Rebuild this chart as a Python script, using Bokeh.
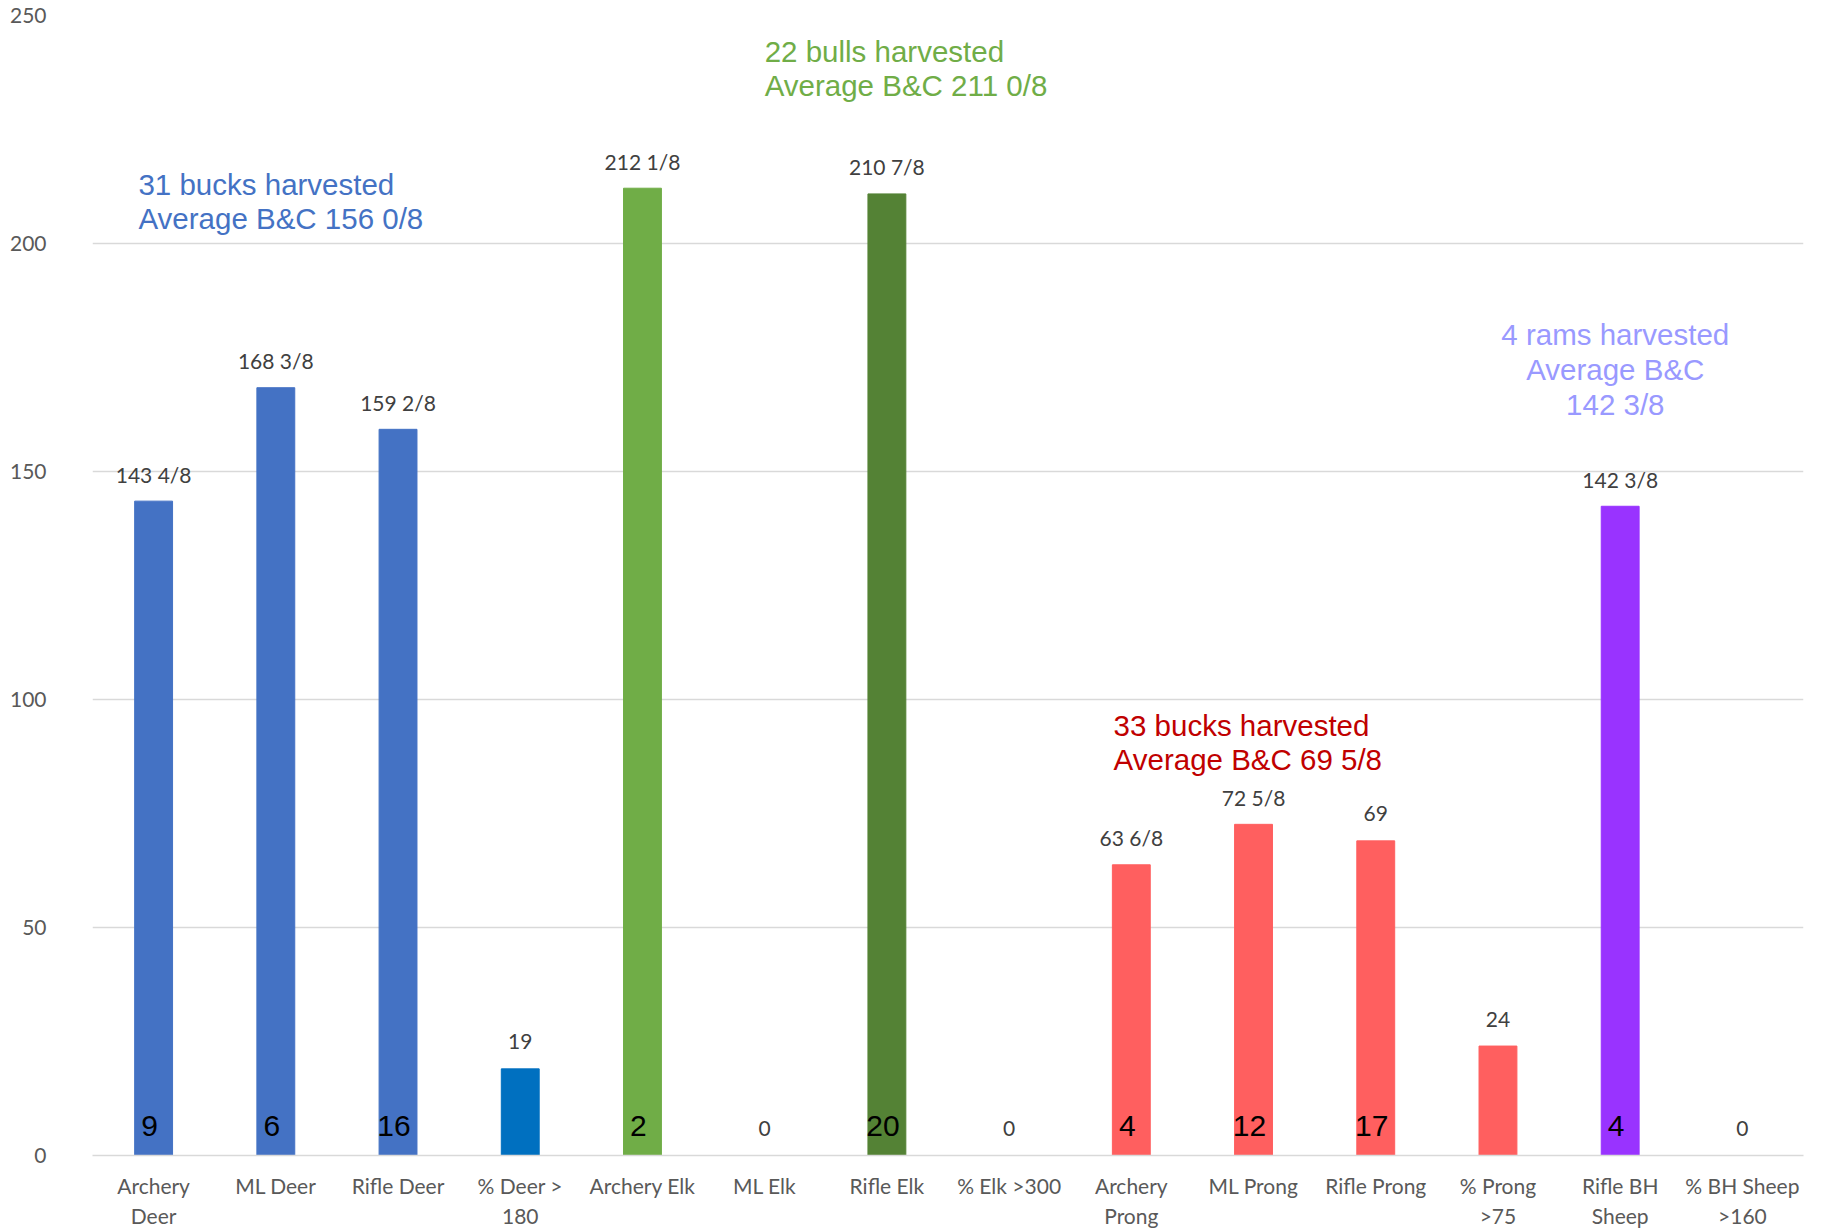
from bokeh.plotting import figure
from bokeh.models import ColumnDataSource, Range1d, FixedTicker
from bokeh.core.properties import value
from bokeh.embed import file_html
from bokeh.resources import INLINE

# ---- data ----
categories = ["Archery\nDeer", "ML Deer", "Rifle Deer", "% Deer >\n180", "Archery Elk", "ML Elk",
              "Rifle Elk", "% Elk >300", "Archery\nProng", "ML Prong", "Rifle Prong", "% Prong\n>75",
              "Rifle BH\nSheep", "% BH Sheep\n>160"]
scores = [143.5, 168.375, 159.25, 19, 212.125, 0, 210.875, 0, 63.75, 72.625, 69, 24, 142.375, 0]
score_labels = ["143 4/8", "168 3/8", "159 2/8", "19", "212 1/8", "0", "210 7/8", "0",
                "63 6/8", "72 5/8", "69", "24", "142 3/8", "0"]
bar_colors = ["#4472C4", "#4472C4", "#4472C4", "#0070C0", "#70AD47", "#70AD47", "#548235", "#548235",
              "#FF5F5F", "#FF5F5F", "#FF5F5F", "#FF5F5F", "#9933FF", "#9933FF"]
count_index = [0, 1, 2, 4, 6, 8, 9, 10, 12]
counts = ["9", "6", "16", "2", "20", "4", "12", "17", "4"]
y_ticks = [0, 50, 100, 150, 200, 250]

# annotation texts
notes = [
    ("31 bucks harvested\nAverage B&C 156 0/8", "#4472C4", -0.124, 209.2, "left"),
    ("22 bulls harvested\nAverage B&C 211 0/8", "#70AD47", 5.0, 238.4, "left"),
    ("33 bucks harvested\nAverage B&C 69 5/8", "#C00000", 7.855, 90.6, "left"),
    ("4 rams harvested\nAverage B&C\n142 3/8", "#9999FF", 11.96, 172.4, "center"),
]

xs = list(range(len(categories)))
src = ColumnDataSource(dict(x=xs, top=scores, label=score_labels, color=bar_colors))

p = figure(frame_width=1711, frame_height=1140, x_range=Range1d(-0.5, 13.5), y_range=Range1d(0, 250),
           output_backend="svg", toolbar_location=None,
           min_border_left=92, min_border_right=27, min_border_top=15, min_border_bottom=0)
p.outline_line_color = None
p.background_fill_color = "white"

p.vbar(x="x", top="top", width=0.31, color="color", source=src)

p.text(x="x", y="top", text="label", source=src, text_align="center", text_baseline="middle",
       y_offset=-27, text_font=value("Lato"), text_font_size="21px", text_color="#404040")

csrc = ColumnDataSource(dict(x=count_index, y=[0] * len(counts), t=counts))
p.text(x="x", y="y", text="t", source=csrc, text_align="center", text_baseline="middle",
       x_offset=-4, y_offset=-30, text_font=value("Liberation Sans"), text_font_size="30px",
       text_color="black")

for txt, col, nx, ny, align in notes:
    p.text(x=[nx], y=[ny], text=[txt], text_align=align, text_baseline="middle",
           text_font=value("Liberation Sans"), text_font_size="29.5px", text_color=col,
           text_line_height=1.05)

# axes
p.xaxis.ticker = FixedTicker(ticks=xs)
p.xaxis.major_label_overrides = {i: c for i, c in enumerate(categories)}
p.xaxis.major_label_text_font = "Lato"
p.xaxis.major_label_text_font_size = "21px"
p.xaxis.major_label_text_color = "#595959"
p.xaxis.major_label_standoff = 17
p.xaxis.major_tick_out = 0
p.xaxis.major_tick_in = 0
p.xaxis.axis_label_standoff = 0
p.xaxis.axis_line_color = "#D9D9D9"
p.xaxis.axis_line_width = 1.5
p.xaxis.major_tick_line_color = None
p.xaxis.minor_tick_line_color = None

p.yaxis.ticker = FixedTicker(ticks=y_ticks)
p.yaxis.major_label_text_font = "Lato"
p.yaxis.major_label_text_font_size = "21px"
p.yaxis.major_label_text_color = "#595959"
p.yaxis.major_label_standoff = 46
p.yaxis.major_tick_out = 0
p.yaxis.major_tick_in = 0
p.yaxis.axis_label_standoff = 0
p.yaxis.axis_line_color = None
p.yaxis.major_tick_line_color = None
p.yaxis.minor_tick_line_color = None

p.xgrid.grid_line_color = None
p.ygrid.grid_line_color = "#D9D9D9"
p.ygrid.grid_line_width = 1.5

open("out.html", "w").write(file_html(p, INLINE))
